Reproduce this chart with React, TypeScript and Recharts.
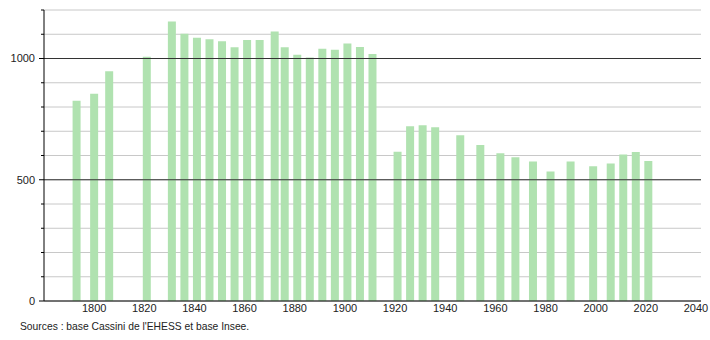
import React from "react";
import {
  BarChart,
  Bar,
  XAxis,
  YAxis,
  CartesianGrid,
  ReferenceLine,
} from "recharts";

// census years and population
const years = [
  1793, 1800, 1806, 1821, 1831, 1836, 1841, 1846, 1851, 1856, 1861, 1866, 1872,
  1876, 1881, 1886, 1891, 1896, 1901, 1906, 1911, 1921, 1926, 1931, 1936, 1946,
  1954, 1962, 1968, 1975, 1982, 1990, 1999, 2006, 2011, 2016, 2021,
];
const population = [
  826, 855, 947, 1007, 1153, 1102, 1086, 1079, 1071, 1046, 1076, 1076, 1111,
  1046, 1015, 1004, 1040, 1036, 1062, 1047, 1019, 615, 721, 725, 716, 683,
  643, 609, 593, 575, 534, 575, 556, 567, 604, 614, 577,
];
const xTicks = [1800, 1820, 1840, 1860, 1880, 1900, 1920, 1940, 1960, 1980, 2000, 2020, 2040];
const yTicks = [0, 100, 200, 300, 400, 500, 600, 700, 800, 900, 1000, 1100, 1200];
const majorY = [500, 1000];

const data = years.map((year, i) => ({ year, pop: population[i] }));

const FONT = "'Liberation Sans', Arial, sans-serif";
const BAR = "#b0e2b0";

// y ticks: long mark + label every 500, short mark otherwise
const YTick = (props: any) => {
  const { x, y, payload } = props;
  const major = payload.value % 500 === 0;
  return (
    <g>
      <line x1={x - (major ? 5 : 3)} x2={x} y1={y} y2={y} stroke="#000" />
      {major && (
        <text x={x - 9} y={y} dy="0.35em" textAnchor="end" fontSize={11} fill="#222" fontFamily={FONT}>
          {payload.value}
        </text>
      )}
    </g>
  );
};

export default function App() {
  return (
    <div style={{ position: "absolute", left: 0, top: 0, width: 710, height: 340, background: "#fff" }}>
      <BarChart
        width={710}
        height={331}
        data={data}
        margin={{ top: 10, right: 9, bottom: 10, left: 4 }}
      >
        <CartesianGrid vertical={false} stroke="#c8c8c8" horizontalValues={yTicks} />
        {majorY.map((v) => (
          <ReferenceLine key={v} y={v} stroke="#333" />
        ))}
        <XAxis
          dataKey="year"
          type="number"
          domain={[1780, 2042]}
          ticks={xTicks}
          tickLine={false}
          tickSize={0}
          tickMargin={3}
          height={20}
          axisLine={{ stroke: "#000" }}
          tick={{ fontSize: 11, fill: "#222", fontFamily: FONT }}
          allowDataOverflow
        />
        <YAxis
          type="number"
          domain={[0, 1200]}
          ticks={yTicks}
          width={40}
          tickSize={0}
          tickMargin={0}
          tickLine={false}
          axisLine={{ stroke: "#000" }}
          tick={<YTick />}
          interval={0}
        />
        <Bar dataKey="pop" fill={BAR} barSize={8} isAnimationActive={false} />
      </BarChart>
      <div
        style={{
          position: "absolute",
          left: 20,
          top: 321,
          fontSize: 10.3,
          fontFamily: FONT,
          color: "#222",
        }}
      >
        Sources : base Cassini de l'EHESS et base Insee.
      </div>
    </div>
  );
}
